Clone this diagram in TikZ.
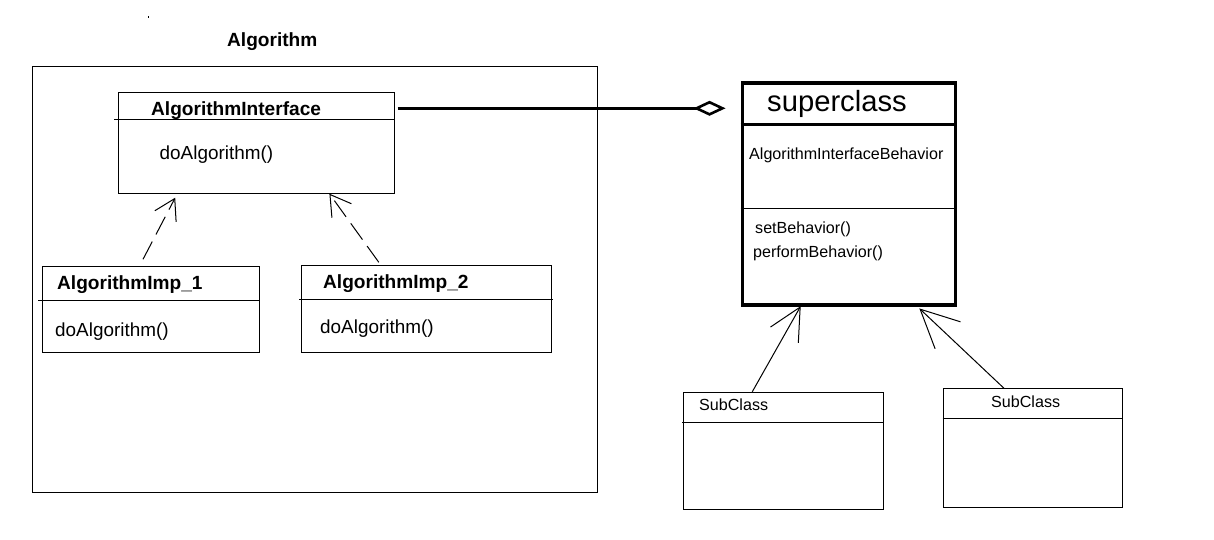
\documentclass[tikz,border=0pt]{standalone}
\usepackage{fontspec}
\setmainfont{Liberation Sans}
\usetikzlibrary{arrows.meta,calc}
\begin{document}
\begin{tikzpicture}[x=1pt,y=-1pt,
  thinline/.style={line width=1pt},
  thickline/.style={line width=3.2pt},
  box/.style={draw, line width=1pt, anchor=north west, inner sep=0pt, rectangle},
  bigbox/.style={box, line width=3.4pt},
  ttl/.style={anchor=base west, inner sep=0pt, font=\fontsize{19.1}{22}\selectfont\bfseries},
  op/.style={anchor=base west, inner sep=0pt, font=\fontsize{18.9}{22}\selectfont},
  small/.style={anchor=base west, inner sep=0pt, font=\fontsize{16.1}{19}\selectfont},
  big/.style={anchor=base west, inner sep=0pt, font=\fontsize{29.2}{32}\selectfont},
  realize/.style={line width=1pt, dash pattern=on 20pt off 8pt, -{Straight Barb[length=20pt,width=24pt]}},
  inherit/.style={line width=1pt, -{Straight Barb[length=32pt,width=32pt]}},
  agg/.style={line width=3pt, -{Diamond[open,length=32pt,width=15pt,line width=2.6pt]}}
]
\useasboundingbox[fill=white] (0,0) rectangle (1214,540);
\fill (147.5,16) rectangle (148.5,18.5);

% Algorithm package
\node[box, minimum width=565.5pt, minimum height=425.5pt] (alg) at (31.5,66.5) {};
\node[ttl] (algT) at (227,47) {Algorithm};

% AlgorithmInterface
\node[box, minimum width=276pt, minimum height=100.5pt] (ai) at (117.5,92.5) {};
\draw[thinline] (114,119.5) -- (393.5,119.5);
\node[ttl] (aiT) at (151,116) {AlgorithmInterface};
\node[op] (aiO) at (159.5,160) {doAlgorithm()};

% AlgorithmImp_1
\node[box, minimum width=217pt, minimum height=86pt] (i1) at (42.3,266.3) {};
\draw[thinline] (38,300.5) -- (259.3,300.5);
\node[ttl] (i1T) at (57,289.5) {AlgorithmImp\_1};
\node[op] (i1O) at (55,336) {doAlgorithm()};

% AlgorithmImp_2
\node[box, minimum width=250pt, minimum height=87pt] (i2) at (300.5,265.3) {};
\draw[thinline] (299,299.5) -- (553,299.5);
\node[ttl] (i2T) at (323,288) {AlgorithmImp\_2};
\node[op] (i2O) at (320,333.5) {doAlgorithm()};

% superclass
\node[bigbox, minimum width=213pt, minimum height=222pt] (sc) at (740.5,81.3) {};
\draw[thickline] (740.5,124.8) -- (953.5,124.8);
\draw[thinline] (740.5,208.7) -- (953.5,208.7);
\node[big] (scT) at (767,111.5) {superclass};
\node[small] (scA) at (749,159.3) {AlgorithmInterfaceBehavior};
\node[small] (scO1) at (755,233) {setBehavior()};
\node[small] (scO2) at (753,257) {performBehavior()};

% SubClasses
\node[box, minimum width=199.7pt, minimum height=117.3pt] (s1) at (683.3,391.7) {};
\draw[thinline] (682.3,422.5) -- (883,422.5);
\node[small] (s1T) at (699,410) {SubClass};

\node[box, minimum width=179pt, minimum height=119pt] (s2) at (943.3,388.3) {};
\draw[thinline] (942.7,418) -- (1122.3,418);
\node[small] (s2T) at (991,407.5) {SubClass};

% connectors
\draw[realize] ($(i1.north west)+(100.7,-7)$) -- ($(ai.south west)+(57.7,3.7)$);
\draw[realize] ($(i2.north west)+(78.3,-3)$) -- ($(ai.south west)+(211.9,-0.3)$);
\draw[agg] ($(ai.north east)+(3,15.8)$) -- ($(sc.north west)+(-15,27)$);
\draw[inherit] ($(s1.north west)+(69,0)$) -- ($(sc.south west)+(60.2,-0.6)$);
\draw[inherit, -{Straight Barb[length=38pt,width=37pt]}] ($(s2.north west)+(60.7,0)$) -- ($(sc.south west)+(178.8,1.7)$);
\end{tikzpicture}
\end{document}
